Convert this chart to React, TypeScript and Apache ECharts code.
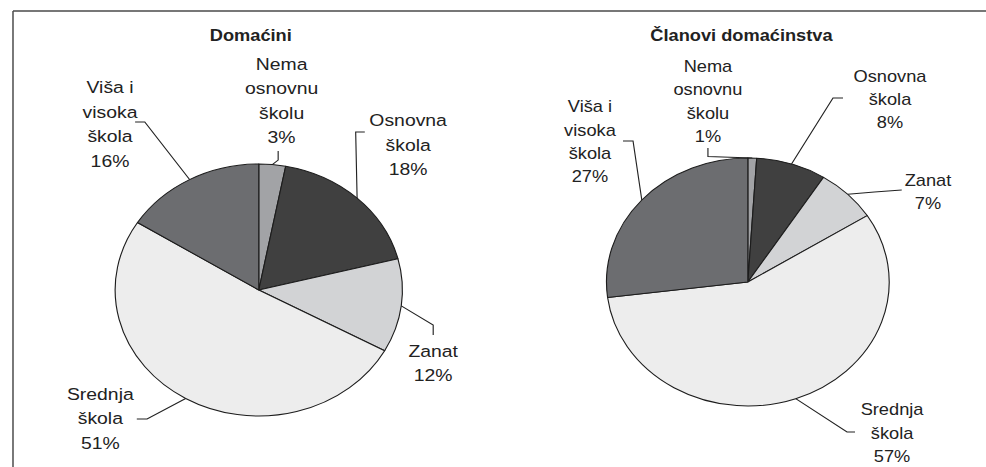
import React, { useEffect, useRef } from "react";
import * as echarts from "echarts";

// ---- data ----
const categories = [
  "Nema\nosnovnu\nškolu",
  "Osnovna\nškola",
  "Zanat",
  "Srednja\nškola",
  "Viša i\nvisoka\nškola",
];
const domaciniValues = [3, 18, 12, 51, 16];
const clanoviValues = [1, 8, 7, 57, 27];
const titles = ["Domaćini", "Članovi domaćinstva"];
const sliceColors = ["#a2a3a6", "#404040", "#d2d3d5", "#ededed", "#6c6d70"];

// ---- layout (the whole picture is stretched horizontally by STRETCH) ----
const STRETCH = 1.14;
const W = 865;
const H = 467;
const FONT = "'Liberation Sans', Arial, Helvetica, sans-serif";

type Spot = { x: number; y: number; bends: number[][] };

const leftCenter: [number, number] = [227, 290];
const leftRadius = 126;
const rightCenter: [number, number] = [656, 282];
const rightRadius = 124;

const leftSpots: Spot[] = [
  { x: 247, y: 101, bends: [[244, 160], [244, 151]] },
  { x: 358, y: 145, bends: [[312, 132], [320, 132]] },
  { x: 380, y: 363.5, bends: [[380, 325], [380, 335]] },
  { x: 88, y: 418.5, bends: [[129, 419], [120, 419]] },
  { x: 96.5, y: 124.5, bends: [[127, 122], [118.5, 122]] },
];
const rightSpots: Spot[] = [
  { x: 621, y: 101.5, bends: [[621, 156.5], [621, 148]] },
  { x: 780.7, y: 99.3, bends: [[730.7, 98], [739.5, 98]] },
  { x: 814, y: 192, bends: [[767, 192], [791, 190]] },
  { x: 782.5, y: 433, bends: [[743, 432], [750, 432]] },
  { x: 517.5, y: 141.7, bends: [[555.3, 141], [546.5, 141]] },
];

function edgePoint(values: number[], i: number, c: [number, number], r: number): number[] {
  const total = values.reduce((a, b) => a + b, 0);
  let before = 0;
  for (let k = 0; k < i; k++) before += values[k];
  const f = (before + values[i] / 2) / total;
  const t = f * Math.PI * 2;
  return [c[0] + r * Math.sin(t), c[1] - r * Math.cos(t)];
}

function makeSeries(
  values: number[],
  center: [number, number],
  radius: number,
  spots: Spot[],
  fontSize: number,
  lineHeight: number
) {
  return {
    type: "pie",
    silent: true,
    center,
    radius,
    startAngle: 90,
    clockwise: true,
    avoidLabelOverlap: false,
    data: categories.map((name, i) => ({
      name,
      value: values[i],
      itemStyle: { color: sliceColors[i] },
    })),
    itemStyle: { borderColor: "#1c1c1c", borderWidth: 1 },
    label: {
      show: true,
      position: "outside",
      formatter: (p: any) => `${p.name}\n${Math.round(p.percent)}%`,
      fontFamily: FONT,
      fontSize,
      lineHeight,
      color: "#222222",
      align: "center",
    },
    labelLine: {
      show: true,
      length: 10,
      length2: 10,
      lineStyle: { color: "#222222", width: 1 },
    },
    labelLayout: (params: any) => {
      const i = params.dataIndex;
      const s = spots[i];
      const edge = edgePoint(values, i, center, radius);
      return {
        x: s.x,
        y: s.y,
        align: "center",
        verticalAlign: "middle",
        labelLinePoints: [edge, s.bends[0], s.bends[1]],
      };
    },
  };
}

export default function App() {
  const ref = useRef<HTMLDivElement>(null);

  useEffect(() => {
    if (!ref.current) return;
    const chart = echarts.init(ref.current, undefined, { renderer: "svg" });
    chart.setOption({
      animation: false,
      backgroundColor: "#ffffff",
      graphic: [
        {
          type: "line",
          shape: { x1: 11.4, y1: 11, x2: W, y2: 11 },
          style: { stroke: "#4a4a4a", lineWidth: 1.6 },
        },
        {
          type: "line",
          shape: { x1: 11.4, y1: 11, x2: 11.4, y2: H },
          style: { stroke: "#4a4a4a", lineWidth: 1.3 },
        },
        {
          type: "text",
          x: 220,
          y: 35,
          style: {
            text: titles[0],
            align: "center",
            verticalAlign: "middle",
            font: `bold 16px ${FONT}`,
            fill: "#222222",
          },
        },
        {
          type: "text",
          x: 650.4,
          y: 35,
          style: {
            text: titles[1],
            align: "center",
            verticalAlign: "middle",
            font: `bold 16px ${FONT}`,
            fill: "#222222",
          },
        },
      ],
      series: [
        makeSeries(domaciniValues, leftCenter, leftRadius, leftSpots, 17, 24.5),
        makeSeries(clanoviValues, rightCenter, rightRadius, rightSpots, 16, 23.3),
      ],
    });
    return () => chart.dispose();
  }, []);

  return (
    <div
      style={{
        position: "fixed",
        left: 0,
        top: 0,
        width: W,
        height: H,
        background: "#ffffff",
        transform: `scaleX(${STRETCH})`,
        transformOrigin: "0 0",
      }}
    >
      <div ref={ref} style={{ width: W, height: H }} />
    </div>
  );
}
